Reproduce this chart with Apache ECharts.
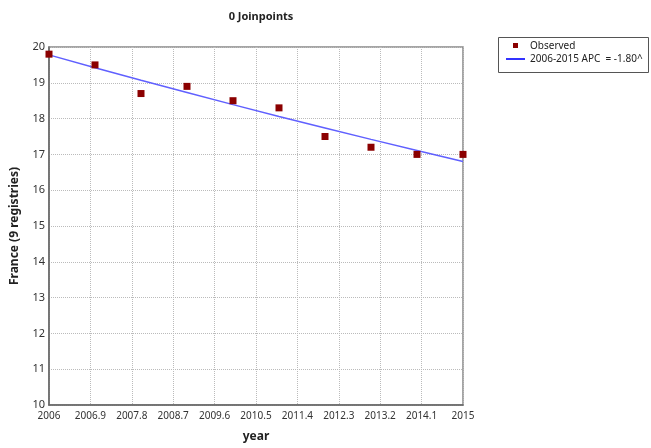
<!DOCTYPE html>
<html><head><meta charset="utf-8">
<script src="https://cdn.jsdelivr.net/npm/echarts@6/dist/echarts.min.js"></script>
<style>html,body{margin:0;padding:0;background:#fff}#c{width:651px;height:448px}</style>
</head><body><div id="c"></div>
<script>
const years = [2006, 2007, 2008, 2009, 2010, 2011, 2012, 2013, 2014, 2015];
const observed = [19.8, 19.5, 18.7, 18.9, 18.5, 18.3, 17.5, 17.2, 17.0, 17.0];
const fitted = [19.78, 19.42, 19.07, 18.73, 18.39, 18.06, 17.74, 17.42, 17.11, 16.80];
const baseYear = 2006;
const xInterval = 0.9;
const titleText = '0 Joinpoints';
const yName = 'France (9 registries)';
const xName = 'year';
const legendObserved = 'Observed';
const legendFit = '2006-2015 APC  = -1.80^';

const font = '"Noto Sans", "DejaVu Sans", sans-serif';
const chart = echarts.init(document.getElementById('c'), null, {renderer: 'canvas'});
const fmt = v => { const r = Math.round((baseYear + v) * 10) / 10; return String(r); };
chart.setOption({
  animation: false,
  title: {text: titleText, left: 256, top: 6, textAlign: 'center',
    textStyle: {fontFamily: font, fontSize: 11, fontWeight: 'bold', color: '#222'}},
  grid: {left: 49, right: 188, top: 47, bottom: 42, show: true, borderColor: '#888', borderWidth: 1.5},
  xAxis: {type: 'value', min: 0, max: years[years.length-1] - baseYear, interval: xInterval,
    name: xName, nameLocation: 'middle', nameGap: 26,
    nameTextStyle: {fontFamily: font, fontSize: 12, fontWeight: 'bold', color: '#222'},
    axisLine: {show: true, lineStyle: {color: '#666', width: 1.5}},
    axisTick: {show: false},
    axisLabel: {formatter: fmt, fontFamily: font, fontSize: 10, color: '#333', margin: 6},
    splitLine: {show: true, lineStyle: {color: '#bbb', type: [1, 1], width: 1}}},
  yAxis: {type: 'value', min: 10, max: 20, interval: 1,
    name: yName, nameLocation: 'middle', nameGap: 28,
    nameTextStyle: {fontFamily: font, fontSize: 12, fontWeight: 'bold', color: '#222'},
    axisLine: {show: true, lineStyle: {color: '#666', width: 1.5}},
    axisTick: {show: false},
    axisLabel: {fontFamily: font, fontSize: 11, color: '#333', margin: 4},
    splitLine: {show: true, lineStyle: {color: '#bbb', type: [1, 1], width: 1}}},
  series: [
    {type: 'line', name: legendFit, data: years.map((y, i) => [y - baseYear, fitted[i]]),
      symbol: 'none', lineStyle: {color: '#6060ff', width: 1.5}, z: 2},
    {type: 'scatter', name: legendObserved, data: years.map((y, i) => [y - baseYear, observed[i]]),
      symbol: 'rect', symbolSize: 7, itemStyle: {color: '#8b0000', opacity: 1}, z: 3}
  ],
  graphic: [
    {type: 'rect', shape: {x: 498.5, y: 37.5, width: 150, height: 35}, style: {fill: '#fff', stroke: '#555', lineWidth: 1}},
    {type: 'rect', shape: {x: 513, y: 43, width: 5, height: 5}, style: {fill: '#8b0000'}},
    {type: 'line', shape: {x1: 506, y1: 59, x2: 525, y2: 59}, style: {stroke: '#3333ff', lineWidth: 2}},
    {type: 'text', x: 530, y: 46, style: {text: legendObserved, fontFamily: font, fontSize: 10, fill: '#222', verticalAlign: 'middle'}},
    {type: 'text', x: 530, y: 59, style: {text: legendFit, fontFamily: font, fontSize: 10, fill: '#222', verticalAlign: 'middle'}}
  ]
});
</script></body></html>
